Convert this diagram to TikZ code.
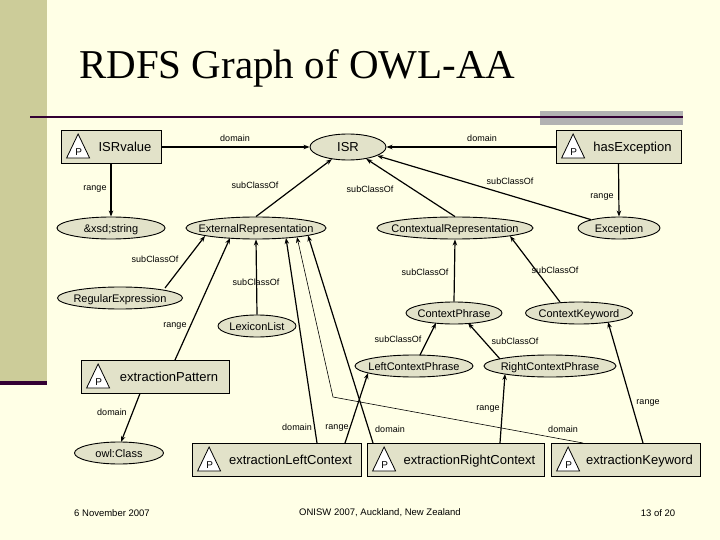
\documentclass[tikz,border=0pt]{standalone}
\usepackage{fontspec}
\setmainfont{Liberation Sans}
\newfontfamily\titlefont{Liberation Serif}
\usetikzlibrary{shapes.geometric,arrows.meta,calc}
\definecolor{bgc}{HTML}{FFFFE6}
\definecolor{band}{HTML}{CCCC99}
\definecolor{rulec}{HTML}{330033}
\definecolor{nfill}{HTML}{E2E2C9}
\newcommand\zb[1]{\makebox[0pt]{#1}}
\newcommand\ptri[1]{%
  \draw[fill=white,line width=0.8] ($(#1.west)+(6,11)$) -- ($(#1.west)+(17.5,-13)$) -- ($(#1.west)+(29,11)$) -- cycle;
  \node[font=\fontsize{10}{10}\selectfont,inner sep=0] (#1P) at ($(#1.west)+(18,5)$) {P};}
\tikzset{
  cls/.style={ellipse,draw,fill=nfill,line width=0.9,inner sep=0,minimum height=22,text height=10,text depth=1.5,font=\fontsize{11}{13}\selectfont},
  prop/.style={rectangle,draw,fill=nfill,line width=0.8,inner sep=0,minimum height=33,text height=11,text depth=2,font=\fontsize{13}{15}\selectfont},
  arr/.style={-{Stealth[length=6pt,width=4.5pt]},line width=1.2},
  thinarr/.style={-{Stealth[length=6pt,width=4.5pt]},line width=0.6},
  lbl/.style={inner sep=0,text height=6.5,text depth=2,font=\fontsize{9}{10}\selectfont},
  foot/.style={inner sep=0,text height=7,text depth=2,font=\fontsize{9.5}{11}\selectfont}
}
\begin{document}
\begin{tikzpicture}[x=1pt,y=-1pt]
\fill[bgc] (0,0) rectangle (720,540);
\useasboundingbox (0,0) rectangle (720,540);
\fill[band] (0,0) rectangle (47,383);
\fill[rulec] (0,381) rectangle (47,385);
\fill[black!30] (540,111) rectangle (683,125);
\draw[rulec,line width=2] (30,117) -- (683,117);
\node[inner sep=0,font=\titlefont\fontsize{41}{44}\selectfont,anchor=west] (title) at (79,68) {RDFS Graph of OWL-AA};

% property boxes
\node[prop,minimum width=100] (isrv) at (111,147) {\hspace{28pt}ISRvalue};
\node[prop,minimum width=125] (hex) at (618.5,147) {\hspace{28pt}hasException};
\node[prop,minimum width=148] (pat) at (155,377) {\hspace{28pt}extractionPattern};
\node[prop,minimum width=169] (lctx) at (276.5,460) {\hspace{28pt}extractionLeftContext};
\node[prop,minimum width=177] (rctx) at (455.5,460) {\hspace{28pt}extractionRightContext};
\node[prop,minimum width=149] (kw) at (625.5,460) {\hspace{28pt}extractionKeyword};
\ptri{isrv}\ptri{hex}\ptri{pat}\ptri{lctx}\ptri{rctx}\ptri{kw}

% classes
\node[cls,minimum width=76,minimum height=26,text height=11,text depth=2,font=\fontsize{13}{15}\selectfont] (isr) at (348,147) {\zb{ISR}};
\node[cls,minimum width=108] (xsd) at (111,228) {\zb{\&xsd;string}};
\node[cls,minimum width=140] (ext) at (256,228) {\zb{ExternalRepresentation}};
\node[cls,minimum width=156] (ctx) at (455,228) {\zb{ContextualRepresentation}};
\node[cls,minimum width=82] (exc) at (619,228) {\zb{Exception}};
\node[cls,minimum width=125] (regex) at (120,298) {\zb{RegularExpression}};
\node[cls,minimum width=78] (lex) at (257,326) {\zb{LexiconList}};
\node[cls,minimum width=96] (cphr) at (454,313) {\zb{ContextPhrase}};
\node[cls,minimum width=107] (ckw) at (579,313) {\zb{ContextKeyword}};
\node[cls,minimum width=118] (lcp) at (414,366) {\zb{LeftContextPhrase}};
\node[cls,minimum width=132] (rcp) at (550,366) {\zb{RightContextPhrase}};
\node[cls,minimum width=89] (owl) at (119,453) {\zb{owl:Class}};

% connectors
\draw[arr] (isrv.east) -- (isr.west);
\draw[arr] (hex.west) -- (isr.east);
\draw[arr] (isrv.south) -- (xsd.north);
\draw[arr] (hex.south) -- (exc.north);
\draw[arr] (ext.north) -- (isr);
\draw[arr] (ctx.north) -- (isr);
\draw[arr] (exc) -- (isr);
\draw[arr] ($(regex.center)+(45,-10)$) -- ($(ext.center)+(-51,8)$);
\draw[arr] ($(pat.center)+(20,-17)$) -- ($(ext.center)+(-26,10)$);
\draw[arr] (lex.north) -- (ext.south);
\draw[arr] ($(lctx.center)+(40.5,-17)$) -- ($(ext.center)+(30,10)$);
\draw[arr] ($(rctx.center)+(-82.5,-17)$) -- ($(ext.center)+(52,7.5)$);
\coordinate (bend) at (333,397);
\draw[thinarr] ($(kw.center)+(-42.5,-17)$) -- (bend) -- ($(ext.center)+(41,9)$);
\draw[arr] ($(lctx.center)+(68.5,-17)$) -- ($(lcp.center)+(-46,7)$);
\draw[arr] ($(rctx.center)+(44.5,-17)$) -- ($(rcp.center)+(-45,8)$);
\draw[arr] ($(kw.center)+(17.5,-17)$) -- ($(ckw.center)+(29,9)$);
\draw[arr] (cphr.north) -- (ctx.south);
\draw[arr] ($(ckw.center)+(-19,-11)$) -- ($(ctx.center)+(55,8)$);
\draw[arr] ($(lcp.center)+(6,-11)$) -- ($(cphr.center)+(-18,10)$);
\draw[arr] ($(rcp.center)+(-50,-7)$) -- ($(cphr.center)+(14,10)$);
\draw[arr] ($(pat.center)+(-15,16.5)$) -- ($(owl.center)+(2,-11)$);

% labels
\node[lbl] (l1) at (235,139) {domain};
\node[lbl] (l2) at (482,139) {domain};
\node[lbl] (l3) at (95,188) {range};
\node[lbl] (l4) at (602,196) {range};
\node[lbl] (l5) at (255,186) {subClassOf};
\node[lbl] (l6) at (370,190) {subClassOf};
\node[lbl] (l7) at (510,182) {subClassOf};
\node[lbl] (l8) at (155,260) {subClassOf};
\node[lbl] (l9) at (256,283) {subClassOf};
\node[lbl] (l10) at (425,273) {subClassOf};
\node[lbl] (l11) at (555,271) {subClassOf};
\node[lbl] (l12) at (175,325) {range};
\node[lbl] (l13) at (398,340) {subClassOf};
\node[lbl] (l14) at (515,342) {subClassOf};
\node[lbl] (l15) at (112,413) {domain};
\node[lbl] (l16) at (297,428) {domain};
\node[lbl] (l17) at (337,427) {range};
\node[lbl] (l18) at (390,430) {domain};
\node[lbl] (l19) at (563,430) {domain};
\node[lbl] (l20) at (488,408) {range};
\node[lbl] (l21) at (648,402) {range};

% footer
\node[foot] (f1) at (112,514) {6 November 2007};
\node[foot] (f2) at (380,513) {ONISW 2007, Auckland, New Zealand};
\node[foot] (f3) at (658,514) {13 of 20};
\end{tikzpicture}
\end{document}
